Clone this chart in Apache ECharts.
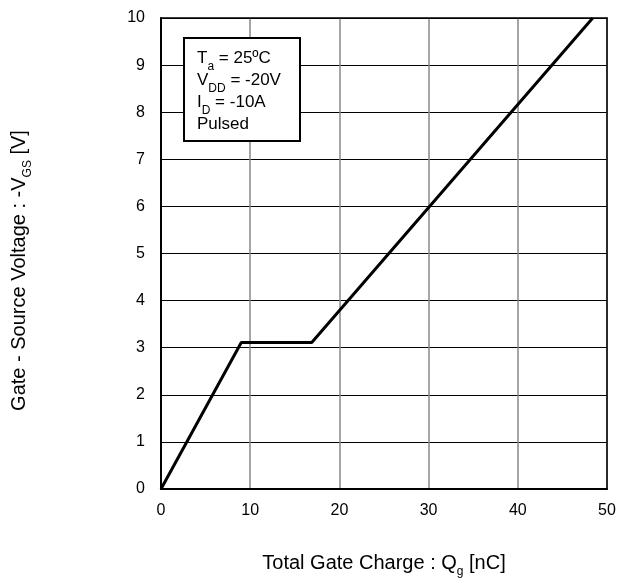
<!DOCTYPE html>
<html><head><meta charset="utf-8">
<script src="https://cdn.jsdelivr.net/npm/echarts@6/dist/echarts.min.js"></script>
<style>html,body{margin:0;padding:0;background:#fff}#c{width:617px;height:579px}</style>
</head><body><div id="c"></div>
<script>
const chargeNC = [0, 9.0, 16.9, 48.4];
const vgs = [0, 3.11, 3.11, 10];
const xTicks = [0, 10, 20, 30, 40, 50];
const yTicks = [0, 1, 2, 3, 4, 5, 6, 7, 8, 9, 10];
const noteLines = [
  ['T', 'a', ' = 25ºC'],
  ['V', 'DD', ' = -20V'],
  ['I', 'D', ' = -10A'],
  ['Pulsed', '', '']
];

const FONT = 'Liberation Sans, Arial, sans-serif';
const chart = echarts.init(document.getElementById('c'), null, {renderer: 'canvas'});
const subT = {fontSize: 12, fontFamily: FONT, color: '#000', verticalAlign: 'bottom', padding: [0, 0, -5, 0]};
const normT = {fontSize: 20, fontFamily: FONT, color: '#000'};
const subN = {fontSize: 12, fontFamily: FONT, color: '#000', verticalAlign: 'bottom', padding: [0, 0, -6, 0]};
const normN = {fontSize: 17, fontFamily: FONT, color: '#000'};
const tickStyle = {fontSize: 16, fontFamily: FONT, color: '#000'};

const noteGraphics = noteLines.map((l, i) => ({
  type: 'text', left: 197, top: 50 + i * 22, z: 101,
  style: {
    text: '{n|' + l[0] + '}' + (l[1] ? '{s|' + l[1] + '}' : '') + (l[2] ? '{n|' + l[2] + '}' : ''),
    rich: {n: normN, s: subN}
  }
}));

chart.setOption({
  animation: false,
  backgroundColor: '#fff',
  grid: {left: 161, right: 10, top: 18, bottom: 90, containLabel: false, outerBoundsMode: 'none'},
  xAxis: [{
    type: 'value', min: 0, max: 50, interval: 10,
    name: '{n|Total Gate Charge : Q}{s|g}{n| [nC]}',
    nameLocation: 'middle', nameGap: 64,
    nameTextStyle: {rich: {n: normT, s: subT}},
    axisLine: {show: true, lineStyle: {color: '#000', width: 2}},
    axisTick: {show: false},
    axisLabel: Object.assign({margin: 14}, tickStyle),
    splitLine: {show: true, lineStyle: {color: '#888', width: 1.5}}
  }, {
    type: 'value', min: 0, max: 50, position: 'top',
    axisLine: {show: true, onZero: false, lineStyle: {color: '#000', width: 1.5}},
    axisTick: {show: false}, axisLabel: {show: false}, splitLine: {show: false}
  }],
  yAxis: [{
    type: 'value', min: 0, max: 10, interval: 1,
    name: '{n|Gate - Source Voltage : -V}{s|GS}{n| [V]}',
    nameLocation: 'middle', nameGap: 132, nameRotate: 90,
    nameTextStyle: {rich: {n: normT, s: subT}, padding: [0, 34, 0, 0]},
    axisLine: {show: true, lineStyle: {color: '#000', width: 2}},
    axisTick: {show: false},
    axisLabel: Object.assign({margin: 16}, tickStyle),
    splitLine: {show: true, lineStyle: {color: '#000', width: 1}}
  }, {
    type: 'value', min: 0, max: 10, position: 'right',
    axisLine: {show: true, onZero: false, lineStyle: {color: '#000', width: 1.5}},
    axisTick: {show: false}, axisLabel: {show: false}, splitLine: {show: false}
  }],
  series: [{
    type: 'line',
    data: chargeNC.map((x, i) => [x, vgs[i]]),
    symbol: 'none',
    lineStyle: {color: '#000', width: 3},
    z: 5
  }],
  graphic: [
    {type: 'rect', left: 183, top: 37, z: 100,
     shape: {width: 116, height: 103},
     style: {fill: '#fff', stroke: '#000', lineWidth: 2}}
  ].concat(noteGraphics)
});
</script></body></html>
